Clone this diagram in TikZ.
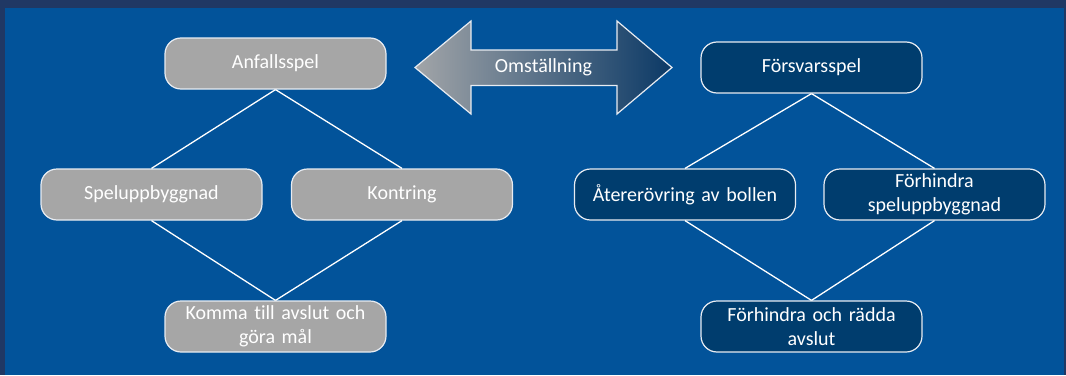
\documentclass[tikz,border=0pt]{standalone}
\usepackage{fontspec}
\setmainfont[Ligatures=NoCommon]{Carlito}
\definecolor{frame}{HTML}{203864}
\definecolor{bgblue}{HTML}{02539A}
\definecolor{boxgray}{HTML}{A6A6A6}
\definecolor{boxnavy}{HTML}{003D6E}
\definecolor{arrgray}{HTML}{A2A5A8}
\definecolor{arrnavy}{HTML}{0B3966}
\definecolor{edgewhite}{HTML}{E8ECF2}
\begin{document}
\begin{tikzpicture}[x=1pt,y=-1pt,
  box/.style={rounded corners=16pt, draw=edgewhite, line width=1.2pt, text=white,
    minimum width=221pt, minimum height=51pt, inner sep=0pt, text width=215pt,
    align=center, font=\fontsize{20}{23.5}\selectfont},
  graybox/.style={box, fill=boxgray},
  navybox/.style={box, fill=boxnavy},
  link/.style={draw=white, line width=1.3pt}]
\useasboundingbox (0,0) rectangle (1066,375);
\fill[frame] (0,0) rectangle (1066,375);
\fill[bgblue] (5,8) rectangle (1064,375);
% double arrow
\path[draw=edgewhite, line width=1.2pt, left color=arrgray, right color=arrnavy, shading angle=90]
  (415,67.5) -- (471,21) -- (471,50) -- (617,50) -- (617,21) -- (672,67.5)
  -- (617,114) -- (617,85.5) -- (471,85.5) -- (471,114) -- cycle;
\node[text=white, font=\fontsize{20}{23.5}\selectfont] (oms) at (543.5,67.5) {Omställning};
% left tree
\node[graybox] (anf) at (275.5,63.5) {Anfallsspel};
\node[graybox] (spel) at (151.5,194.5) {Speluppbyggnad};
\node[graybox] (kont) at (402,194.5) {Kontring};
\node[graybox] (komma) at (275.5,326.5) {Komma till avslut och\\göra mål};
% right tree
\node[navybox] (fors) at (811.5,67.5) {Försvarsspel};
\node[navybox] (ater) at (685,194.5) {Återerövring av bollen};
\node[navybox] (forh) at (934.5,194.5) {Förhindra\\speluppbyggnad};
\node[navybox] (radda) at (811.5,326.5) {Förhindra och rädda\\avslut};
% connectors
\draw[link] (anf.south) -- (spel.north);
\draw[link] (anf.south) -- (kont.north);
\draw[link] (spel.south) -- (komma.north);
\draw[link] (kont.south) -- (komma.north);
\draw[link] (fors.south) -- (ater.north);
\draw[link] (fors.south) -- (forh.north);
\draw[link] (ater.south) -- (radda.north);
\draw[link] (forh.south) -- (radda.north);
\end{tikzpicture}
\end{document}
